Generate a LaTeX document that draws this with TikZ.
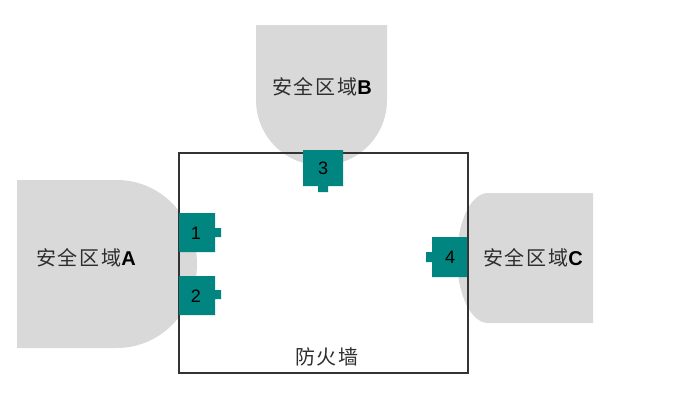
\documentclass[tikz,border=0pt]{standalone}
\usepackage{fontspec}
\setmainfont{Liberation Sans}
\newfontfamily\cjk[LetterSpace=9]{Noto Sans CJK SC}
\newcommand{\zletter}[1]{{\normalfont\bfseries\color{black}#1}}
\definecolor{zonegray}{HTML}{D9D9D9}
\definecolor{portteal}{HTML}{008580}
\definecolor{txtgray}{HTML}{2E2E2E}
\definecolor{wallgray}{HTML}{333333}
\tikzset{
  zone/.style={fill=zonegray},
  wall/.style={draw=wallgray, line width=1.4pt, minimum width=289pt, minimum height=220pt, inner sep=0pt},
  port/.style={fill=portteal},
  portnum/.style={font=\fontsize{18}{18}\selectfont, text=black, inner sep=0pt},
  zonelabel/.style={font=\fontsize{20}{20}\selectfont, text=txtgray, inner sep=0pt},
}
\begin{document}
\begin{tikzpicture}[x=1pt, y=-1pt]
\useasboundingbox (0,0) rectangle (695,400);
% zones
\fill[zone] (17,180) -- (117,180) arc[start angle=-90, end angle=90, x radius=80, y radius=84] -- (17,348) -- cycle;
\fill[zone] (256,25) -- (256,100) arc[start angle=180, end angle=0, radius=65.5] -- (387,25) -- cycle;
\fill[zone] (593,193) -- (488,193) arc[start angle=-90, end angle=-270, x radius=31, y radius=65] -- (593,323) -- cycle;
% firewall
\node[wall] (fw) at (323.5,263) {};
\node[zonelabel] (fwlabel) at (327,357) {\cjk 防火墙};
% zone labels
\node[zonelabel] (za) at (86,258) {\cjk 安全区域\zletter{A}};
\node[zonelabel] (zb) at (322,87) {\cjk 安全区域\zletter{B}};
\node[zonelabel] (zc) at (533,258) {\cjk 安全区域\zletter{C}};
% ports
\fill[port] (179,213) rectangle (215,252) (214,228) rectangle (221,237);
\fill[port] (179,276) rectangle (215,315) (214,290) rectangle (221,299);
\fill[port] (303,150) rectangle (343,186) (318,185) rectangle (328,192);
\fill[port] (432,237) rectangle (467,277) (426,252) rectangle (433,262);
\node[portnum] (p1) at (196,233) {1};
\node[portnum] (p2) at (196,296) {2};
\node[portnum] (p3) at (323,168.5) {3};
\node[portnum] (p4) at (450,257.5) {4};
\end{tikzpicture}
\end{document}
